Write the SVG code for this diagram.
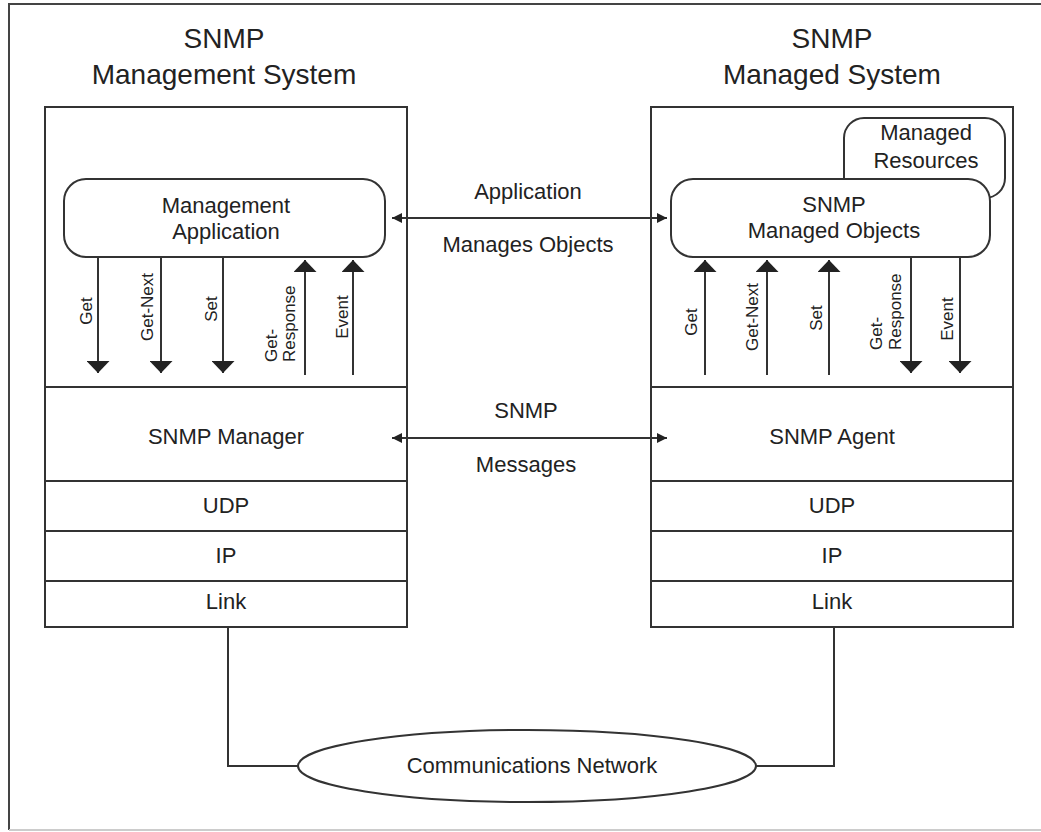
<svg xmlns="http://www.w3.org/2000/svg" width="1041" height="832" viewBox="0 0 1041 832">
  <style>
    .box { fill: #fff; stroke: #333; stroke-width: 2; }
    .ln { fill: none; stroke: #333; stroke-width: 2; }
    .t { font-family: "Liberation Sans", Arial, sans-serif; font-size: 22px; fill: #222; text-anchor: middle; }
    .title { font-size: 28px; }
    .v { font-family: "Liberation Sans", Arial, sans-serif; font-size: 17px; fill: #222; }
  </style>
  <defs>
    <marker id="sm" viewBox="0 0 10 10" markerWidth="10" markerHeight="10" refX="10" refY="5" orient="auto-start-reverse" markerUnits="userSpaceOnUse">
      <path d="M0,0 L10,5 L0,10 z" fill="#222"/>
    </marker>
    <marker id="big" viewBox="0 0 12 23" markerWidth="12" markerHeight="23" refX="12" refY="11.5" orient="auto" markerUnits="userSpaceOnUse">
      <path d="M0,0 L12,11.5 L0,23 z" fill="#222"/>
    </marker>
  </defs>
  <rect width="1041" height="832" fill="#fff"/>
  <!-- outer frame -->
  <line x1="9" y1="4" x2="1041" y2="4" stroke="#444" stroke-width="2"/>
  <line x1="9" y1="3" x2="9" y2="830" stroke="#444" stroke-width="2"/>
  <line x1="9" y1="830" x2="1041" y2="830" stroke="#ccc" stroke-width="2"/>

  <!-- titles -->
  <g id="title-left">
    <text class="t title" x="224" y="48">SNMP</text>
    <text class="t title" x="224" y="84">Management System</text>
  </g>
  <g id="title-right">
    <text class="t title" x="832" y="48">SNMP</text>
    <text class="t title" x="832" y="84">Managed System</text>
  </g>

  <!-- management system stack -->
  <g id="management-system">
    <rect class="box" x="45" y="107" width="362" height="520"/>
    <line class="ln" x1="45" y1="387" x2="407" y2="387"/>
    <line class="ln" x1="45" y1="481" x2="407" y2="481"/>
    <line class="ln" x1="45" y1="531" x2="407" y2="531"/>
    <line class="ln" x1="45" y1="581" x2="407" y2="581"/>
  </g>
  <g id="snmp-manager"><text class="t" x="226" y="444">SNMP Manager</text></g>
  <g id="udp-left"><text class="t" x="226" y="513">UDP</text></g>
  <g id="ip-left"><text class="t" x="226" y="563">IP</text></g>
  <g id="link-left"><text class="t" x="226" y="609">Link</text></g>

  <g id="management-application">
    <rect class="box" x="64" y="179" width="321" height="78" rx="22" ry="22"/>
    <text class="t" x="226" y="213">Management</text>
    <text class="t" x="226" y="239">Application</text>
  </g>

  <!-- managed system stack -->
  <g id="managed-system">
    <rect class="box" x="651" y="107" width="362" height="520"/>
    <line class="ln" x1="651" y1="387" x2="1013" y2="387"/>
    <line class="ln" x1="651" y1="481" x2="1013" y2="481"/>
    <line class="ln" x1="651" y1="531" x2="1013" y2="531"/>
    <line class="ln" x1="651" y1="581" x2="1013" y2="581"/>
  </g>
  <g id="snmp-agent"><text class="t" x="832" y="444">SNMP Agent</text></g>
  <g id="udp-right"><text class="t" x="832" y="513">UDP</text></g>
  <g id="ip-right"><text class="t" x="832" y="563">IP</text></g>
  <g id="link-right"><text class="t" x="832" y="609">Link</text></g>

  <g id="managed-resources">
    <rect class="box" x="844" y="118" width="161" height="80" rx="20" ry="20"/>
    <text class="t" x="926" y="140">Managed</text>
    <text class="t" x="926" y="168">Resources</text>
  </g>
  <g id="snmp-managed-objects">
    <rect class="box" x="671" y="179" width="319" height="78" rx="22" ry="22"/>
    <text class="t" x="834" y="212">SNMP</text>
    <text class="t" x="834" y="238">Managed Objects</text>
  </g>

  <g id="network">
    <ellipse class="box" cx="527" cy="766" rx="229" ry="36"/>
    <text class="t" x="532" y="773">Communications Network</text>
  </g>

  <!-- connectors -->
  <g id="connectors">
    <line class="ln" x1="392" y1="218" x2="667" y2="218" marker-start="url(#sm)" marker-end="url(#sm)"/>
    <line class="ln" x1="392" y1="438" x2="667" y2="438" marker-start="url(#sm)" marker-end="url(#sm)"/>
    <!-- left verticals -->
    <line class="ln" x1="98" y1="257" x2="98" y2="373" marker-end="url(#big)"/>
    <line class="ln" x1="161" y1="257" x2="161" y2="373" marker-end="url(#big)"/>
    <line class="ln" x1="223" y1="257" x2="223" y2="373" marker-end="url(#big)"/>
    <line class="ln" x1="305" y1="375" x2="305" y2="260" marker-end="url(#big)"/>
    <line class="ln" x1="353" y1="375" x2="353" y2="260" marker-end="url(#big)"/>
    <!-- right verticals -->
    <line class="ln" x1="705" y1="375" x2="705" y2="260" marker-end="url(#big)"/>
    <line class="ln" x1="767" y1="375" x2="767" y2="260" marker-end="url(#big)"/>
    <line class="ln" x1="829" y1="375" x2="829" y2="260" marker-end="url(#big)"/>
    <line class="ln" x1="911" y1="257" x2="911" y2="373" marker-end="url(#big)"/>
    <line class="ln" x1="960" y1="257" x2="960" y2="373" marker-end="url(#big)"/>
    <!-- network links -->
    <polyline class="ln" points="228,627 228,766 298,766"/>
    <polyline class="ln" points="834,627 834,766 756,766"/>
  </g>

  <!-- connector labels -->
  <g id="labels">
    <text class="t" x="528" y="199">Application</text>
    <text class="t" x="528" y="252">Manages Objects</text>
    <text class="t" x="526" y="418">SNMP</text>
    <text class="t" x="526" y="472">Messages</text>

    <text class="v" text-anchor="middle" transform="translate(91.5,311) rotate(-90)">Get</text>
    <text class="v" text-anchor="middle" transform="translate(153,307) rotate(-90)">Get-Next</text>
    <text class="v" text-anchor="middle" transform="translate(217,309) rotate(-90)">Set</text>
    <text class="v" text-anchor="start" transform="translate(277,362) rotate(-90)">Get-</text>
    <text class="v" text-anchor="start" transform="translate(295,362) rotate(-90)">Response</text>
    <text class="v" text-anchor="middle" transform="translate(348,317) rotate(-90)">Event</text>

    <text class="v" text-anchor="middle" transform="translate(697,322) rotate(-90)">Get</text>
    <text class="v" text-anchor="middle" transform="translate(758,317) rotate(-90)">Get-Next</text>
    <text class="v" text-anchor="middle" transform="translate(822,318) rotate(-90)">Set</text>
    <text class="v" text-anchor="start" transform="translate(882,350) rotate(-90)">Get-</text>
    <text class="v" text-anchor="start" transform="translate(901,350) rotate(-90)">Response</text>
    <text class="v" text-anchor="middle" transform="translate(953,319) rotate(-90)">Event</text>
  </g>
</svg>
